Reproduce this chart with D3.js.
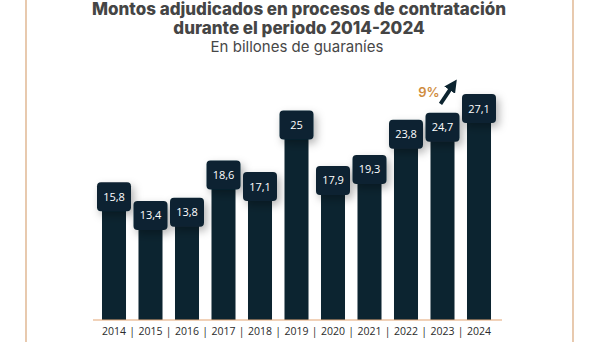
<!DOCTYPE html>
<html>
<head>
<meta charset="utf-8">
<script src="https://cdn.jsdelivr.net/npm/d3@7"></script>
<style>
  body { margin: 0; background: #fff; }
  svg { display: block; }
</style>
</head>
<body>
<div id="chart"></div>
<script>
// datos del gráfico
var years = ["2014", "2015", "2016", "2017", "2018", "2019", "2020", "2021", "2022", "2023", "2024"];
var montos = [15.8, 13.4, 13.8, 18.6, 17.1, 25, 17.9, 19.3, 23.8, 24.7, 27.1];
var valueLabels = ["15,8", "13,4", "13,8", "18,6", "17,1", "25", "17,9", "19,3", "23,8", "24,7", "27,1"];
var growthLabel = "9%";

var width = 600, height = 342;
var dark = "#0c2430";
var tan = "#d9a679";

var svg = d3.select("#chart").append("svg")
    .attr("width", width)
    .attr("height", height);

// sombra de las etiquetas
var defs = svg.append("defs");
defs.append("filter")
    .attr("id", "shadow")
    .attr("x", "-50%").attr("y", "-50%")
    .attr("width", "200%").attr("height", "200%")
  .append("feDropShadow")
    .attr("dx", 3).attr("dy", 4)
    .attr("stdDeviation", 4)
    .attr("flood-color", "#000")
    .attr("flood-opacity", 0.3);

// lineas laterales
svg.append("line")
    .attr("x1", 26).attr("x2", 26).attr("y1", 0).attr("y2", height)
    .attr("stroke", tan).attr("stroke-width", 1.2);
svg.append("line")
    .attr("x1", 573).attr("x2", 573).attr("y1", 0).attr("y2", height)
    .attr("stroke", tan).attr("stroke-width", 1.2);

// titulos
svg.append("text")
    .attr("x", 299).attr("y", 15)
    .attr("text-anchor", "middle")
    .style("font-family", "Inter, sans-serif")
    .style("font-weight", 800)
    .style("font-size", "17px")
    .attr("fill", "#454545")
    .text("Montos adjudicados en procesos de contratación");
svg.append("text")
    .attr("x", 299).attr("y", 34)
    .attr("text-anchor", "middle")
    .style("font-family", "Inter, sans-serif")
    .style("font-weight", 800)
    .style("font-size", "17px")
    .attr("fill", "#454545")
    .text("durante el periodo 2014-2024");
svg.append("text")
    .attr("x", 297).attr("y", 52)
    .attr("text-anchor", "middle")
    .style("font-family", "Inter, sans-serif")
    .style("font-size", "15px")
    .attr("fill", "#474747")
    .text("En billones de guaraníes");

var x = d3.scaleBand()
    .domain(years)
    .range([95.75, 497.25])
    .paddingInner(0.342)
    .paddingOuter(0.171);

var y = d3.scaleLinear()
    .domain([0, 30])
    .range([320, 86]);

var boxW = 34, boxH = 29;
var data = years.map(function(d, i) {
    return { year: d, value: montos[i], label: valueLabels[i] };
});

// barras
svg.selectAll("rect.bar")
    .data(data)
  .enter().append("rect")
    .attr("class", "bar")
    .attr("x", function(d) { return x(d.year); })
    .attr("y", function(d) { return y(d.value); })
    .attr("width", x.bandwidth())
    .attr("height", function(d) { return y(0) - y(d.value); })
    .attr("fill", dark);

// etiquetas con valores
var tag = svg.selectAll("g.tag")
    .data(data)
  .enter().append("g")
    .attr("class", "tag")
    .attr("transform", function(d) {
        return "translate(" + (x(d.year) + x.bandwidth() / 2) + "," + y(d.value) + ")";
    });

tag.append("rect")
    .attr("x", -boxW / 2)
    .attr("y", -boxH / 2)
    .attr("width", boxW)
    .attr("height", boxH)
    .attr("rx", 4)
    .attr("fill", dark)
    .attr("filter", "url(#shadow)");

tag.append("text")
    .attr("text-anchor", "middle")
    .attr("dy", "0.36em")
    .style("font-family", "'Open Sans', sans-serif")
    .style("font-size", "11px")
    .attr("fill", "#fff")
    .text(function(d) { return d.label; });

// eje inferior
svg.append("line")
    .attr("x1", 93).attr("x2", 502)
    .attr("y1", y(0)).attr("y2", y(0))
    .attr("stroke", "#e3a575").attr("stroke-width", 1.2);

svg.selectAll("text.year")
    .data(years)
  .enter().append("text")
    .attr("class", "year")
    .attr("x", function(d) { return x(d) + x.bandwidth() / 2; })
    .attr("y", 335)
    .attr("text-anchor", "middle")
    .style("font-family", "'Open Sans', sans-serif")
    .style("font-size", "10.5px")
    .attr("fill", "#2b2b2b")
    .text(function(d) { return d; });

svg.selectAll("text.sep")
    .data(years.slice(1))
  .enter().append("text")
    .attr("class", "sep")
    .attr("x", function(d) { return x(d) - x.step() * x.paddingInner() / 2; })
    .attr("y", 335)
    .attr("text-anchor", "middle")
    .style("font-family", "'Open Sans', sans-serif")
    .style("font-size", "10.5px")
    .attr("fill", "#2b2b2b")
    .text("|");

// flecha de crecimiento, sobre la etiqueta de 2023
var prev = data[data.length - 2];
var prevX = x(prev.year) + x.bandwidth() / 2;
var prevTop = y(prev.value) - boxH / 2;

defs.append("marker")
    .attr("id", "head")
    .attr("viewBox", "0 0 10 10")
    .attr("refX", 4).attr("refY", 5)
    .attr("markerWidth", 3.4).attr("markerHeight", 3.4)
    .attr("orient", "auto")
  .append("path")
    .attr("d", "M0,0L10,5L0,10z")
    .attr("fill", dark);

svg.append("line")
    .attr("x1", prevX - 2).attr("y1", prevTop - 9)
    .attr("x2", prevX + 10).attr("y2", prevTop - 27)
    .attr("stroke", dark)
    .attr("stroke-width", 3.8)
    .attr("marker-end", "url(#head)");

svg.append("text")
    .attr("x", prevX - 3)
    .attr("y", prevTop - 16)
    .attr("text-anchor", "end")
    .style("font-family", "Inter, sans-serif")
    .style("font-weight", 600)
    .style("font-size", "13px")
    .attr("fill", "#cf8c3e")
    .text(growthLabel);
</script>
</body>
</html>
